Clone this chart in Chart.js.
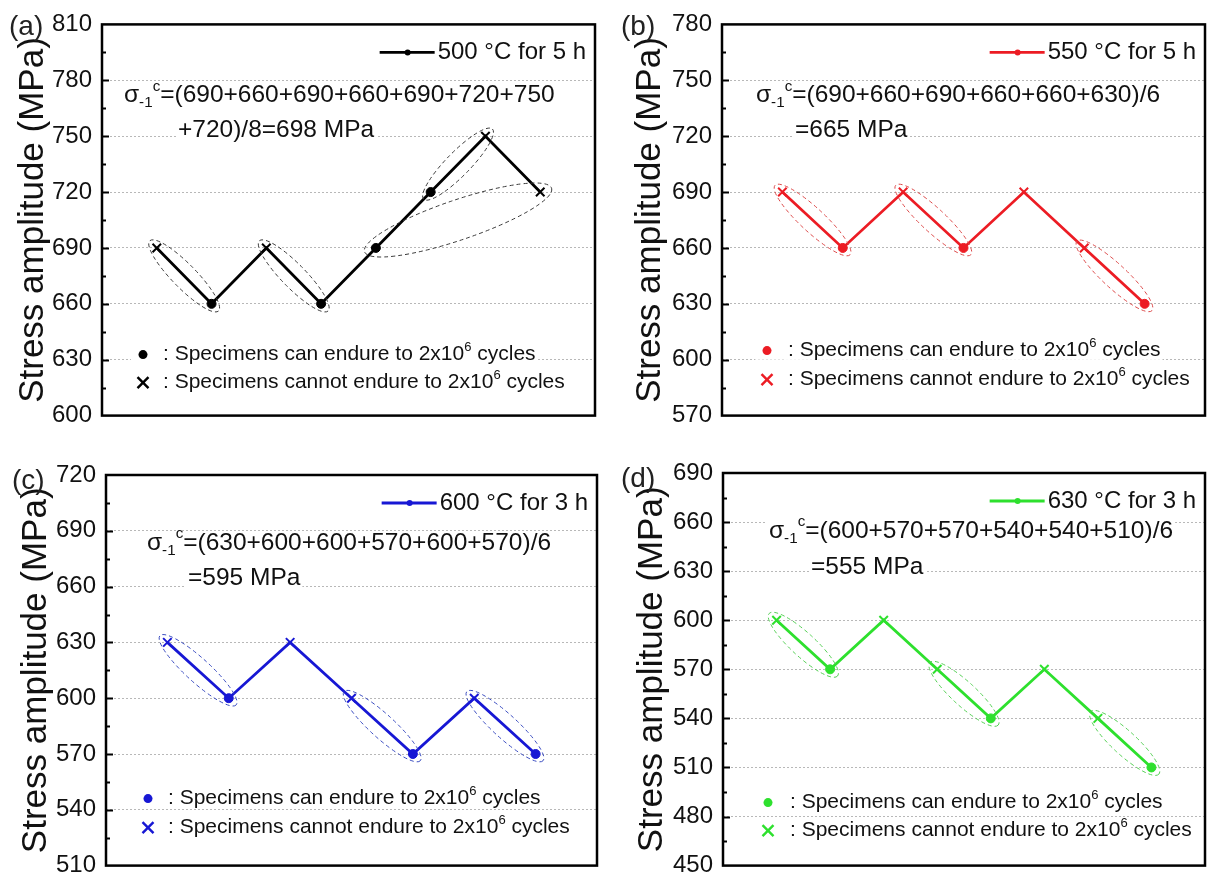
<!DOCTYPE html>
<html><head><meta charset="utf-8">
<script src="https://cdn.jsdelivr.net/npm/chart.js@4.4.1/dist/chart.umd.min.js"></script>
<style>
html,body{margin:0;padding:0;background:#fff;overflow:hidden;width:1213px;height:879px;position:relative;}
canvas{position:absolute;display:block;}
</style></head><body>
<canvas id="c0" width="606" height="440" style="left:0;top:0"></canvas>
<canvas id="c1" width="607" height="440" style="left:606px;top:0"></canvas>
<canvas id="c2" width="606" height="450" style="left:0;top:440px"></canvas>
<canvas id="c3" width="607" height="450" style="left:606px;top:440px"></canvas>
<script>
// ---------------- DATA ----------------
const panelTags = ['(a)', '(b)', '(c)', '(d)'];
const seriesNames = ['500 °C for 5 h', '550 °C for 5 h', '600 °C for 3 h', '630 °C for 3 h'];

const stressA = [690, 660, 690, 660, 690, 720, 750, 720];
const enduredA = [0, 1, 0, 1, 1, 1, 0, 0];
const pairsA = [[0, 1], [2, 3], [5, 6], [4, 7]];

const stressB = [690, 660, 690, 660, 690, 660, 630];
const enduredB = [0, 1, 0, 1, 0, 0, 1];
const pairsB = [[0, 1], [2, 3], [5, 6]];

const stressC = [630, 600, 630, 600, 570, 600, 570];
const enduredC = [0, 1, 0, 0, 1, 0, 1];
const pairsC = [[0, 1], [3, 4], [5, 6]];

const stressD = [600, 570, 600, 570, 540, 570, 540, 510];
const enduredD = [0, 1, 0, 0, 1, 0, 0, 1];
const pairsD = [[0, 1], [3, 4], [6, 7]];

const yRangeA = [600, 810];
const yRangeB = [570, 780];
const yRangeC = [510, 720];
const yRangeD = [450, 690];
const yTickStep = 30;

const formulaA = ['=(690+660+690+660+690+720+750', '+720)/8=698 MPa'];
const formulaB = ['=(690+660+690+660+660+630)/6', '=665 MPa'];
const formulaC = ['=(630+600+600+570+600+570)/6', '=595 MPa'];
const formulaD = ['=(600+570+570+540+540+510)/6', '=555 MPa'];

const yTitle = 'Stress amplitude (MPa)';
const keyCan = [': Specimens can endure to 2x10', '6', ' cycles'];
const keyCannot = [': Specimens cannot endure to 2x10', '6', ' cycles'];

// ---------------- STYLE / LAYOUT ----------------
const FONT = '"Liberation Sans", Arial, sans-serif';
const colors = ['#000000', '#ec1c24', '#1717d4', '#2ee02e'];
const ellipseColors = ['#3a3a3a', '#dc4a4a', '#3a4cc0', '#55cf55'];
const layouts = [
  {pad: {left: 0, top: 22, right: 11, bottom: 22}, yW: 102, titlePad: 15.5, tag: [9, 27],
   f: [[22, 71], [76, 106]], key: {bx: 41, tx: 61, rows: [-61, -33]}, minor: [12, 12, 12, 20]},
  {pad: {left: 0, top: 22, right: 5, bottom: 21}, yW: 116, titlePad: 26.5, tag: [15, 27],
   f: [[34, 71], [73, 106]], key: {bx: 45, tx: 66, rows: [-65, -36]}, minor: [12, 12, 12]},
  {pad: {left: 0, top: 35, right: 9, bottom: 20}, yW: 106, titlePad: 18.5, tag: [12, 41],
   f: [[41, 68], [82, 103]], key: {bx: 42, tx: 62, rows: [-67, -38]}, minor: [12, 12, 12]},
  {pad: {left: 0, top: 33, right: 3, bottom: 22}, yW: 117, titlePad: 28.5, tag: [15, 39],
   f: [[46, 58], [88, 94]], key: {bx: 45, tx: 67, rows: [-63, -35]}, minor: [12, 12, 12]}
];

const panels = [
  {stress: stressA, endured: enduredA, pairs: pairsA, yr: yRangeA, formula: formulaA},
  {stress: stressB, endured: enduredB, pairs: pairsB, yr: yRangeB, formula: formulaB},
  {stress: stressC, endured: enduredC, pairs: pairsC, yr: yRangeC, formula: formulaC},
  {stress: stressD, endured: enduredD, pairs: pairsD, yr: yRangeD, formula: formulaD}
];

// ---------------- HELPERS ----------------
function drawRich(ctx, x, y, segs, size, color, bg) {
  const parts = [];
  let w = 0;
  for (const s of segs) {
    const fs = s.k === 'n' ? size : size * 0.62;
    ctx.font = fs + 'px ' + FONT;
    const sw = ctx.measureText(s.t).width;
    parts.push({t: s.t, k: s.k, fs: fs, sw: sw});
    w += sw;
  }
  if (bg) {
    ctx.fillStyle = '#ffffff';
    ctx.fillRect(x - 2, y - size * 0.4, w + 4, size * 0.84);
  }
  ctx.fillStyle = color;
  ctx.textBaseline = 'middle';
  ctx.textAlign = 'left';
  let cx = x;
  for (const p of parts) {
    const dy = p.k === 'sub' ? size * 0.3 : (p.k === 'sup' ? -size * 0.36 : 0);
    ctx.font = p.fs + 'px ' + FONT;
    ctx.fillText(p.t, cx, y + dy);
    cx += p.sw;
  }
  return w;
}

function drawCross(ctx, x, y, r, color, lw) {
  ctx.save();
  ctx.strokeStyle = color; ctx.lineWidth = lw;
  ctx.beginPath();
  ctx.moveTo(x - r, y - r); ctx.lineTo(x + r, y + r);
  ctx.moveTo(x - r, y + r); ctx.lineTo(x + r, y - r);
  ctx.stroke();
  ctx.restore();
}

const decoPlugin = {
  id: 'deco',
  beforeDatasetsDraw(chart, args, o) {
    const ctx = chart.ctx, ca = chart.chartArea, L = o.layout;
    ctx.save();
    // formula
    const f1 = [{t: 'σ', k: 'n'}, {t: '-1', k: 'sub'}, {t: 'c', k: 'sup'}, {t: o.formula[0], k: 'n'}];
    drawRich(ctx, ca.left + L.f[0][0], ca.top + L.f[0][1], f1, 24.5, '#111', true);
    drawRich(ctx, ca.left + L.f[1][0], ca.top + L.f[1][1], [{t: o.formula[1], k: 'n'}], 24.5, '#111', true);
    // key rows
    const y1 = ca.bottom + L.key.rows[0], y2 = ca.bottom + L.key.rows[1];
    const segs1 = [{t: keyCan[0], k: 'n'}, {t: keyCan[1], k: 'sup'}, {t: keyCan[2], k: 'n'}];
    const segs2 = [{t: keyCannot[0], k: 'n'}, {t: keyCannot[1], k: 'sup'}, {t: keyCannot[2], k: 'n'}];
    ctx.fillStyle = '#fff';
    ctx.fillRect(ca.left + L.key.bx - 12, y1 - 9, L.key.tx - L.key.bx + 12, 18);
    ctx.fillRect(ca.left + L.key.bx - 12, y2 - 9, L.key.tx - L.key.bx + 12, 18);
    drawRich(ctx, ca.left + L.key.tx, y1, segs1, 21, '#111', true);
    drawRich(ctx, ca.left + L.key.tx, y2, segs2, 21, '#111', true);
    ctx.fillStyle = o.color;
    ctx.beginPath(); ctx.arc(ca.left + L.key.bx, y1, 4.5, 0, Math.PI * 2); ctx.fill();
    drawCross(ctx, ca.left + L.key.bx, y2, 5.5, o.color, 2.4);
    // legend
    const name = chart.data.datasets[0].label;
    ctx.font = '24px ' + FONT;
    const tw = ctx.measureText(name).width;
    const ty = ca.top + 28;
    const tx = ca.right - 9 - tw;
    ctx.fillStyle = '#111'; ctx.textBaseline = 'middle'; ctx.textAlign = 'left';
    ctx.fillText(name, tx, ty);
    ctx.strokeStyle = o.color; ctx.lineWidth = 2.8;
    ctx.beginPath(); ctx.moveTo(tx - 58, ty); ctx.lineTo(tx - 3, ty); ctx.stroke();
    ctx.fillStyle = o.color;
    ctx.beginPath(); ctx.arc(tx - 30, ty, 3, 0, Math.PI * 2); ctx.fill();
    ctx.restore();
  },
  afterDatasetsDraw(chart, args, o) {
    const ctx = chart.ctx, ca = chart.chartArea, L = o.layout;
    const pts = chart.getDatasetMeta(0).data;
    ctx.save();
    // ellipses
    ctx.strokeStyle = o.ellipseColor; ctx.lineWidth = 1; ctx.setLineDash([4, 3]);
    o.pairs.forEach((pr, k) => {
      const p1 = pts[pr[0]], p2 = pts[pr[1]];
      const cx = (p1.x + p2.x) / 2, cy = (p1.y + p2.y) / 2;
      const minor = L.minor[k];
      const a = Math.hypot(p2.x - p1.x, p2.y - p1.y) / 2 + (minor > 14 ? 12 : 10);
      const ang = Math.atan2(p2.y - p1.y, p2.x - p1.x);
      ctx.beginPath(); ctx.ellipse(cx, cy, a, minor, ang, 0, Math.PI * 2); ctx.stroke();
    });
    ctx.setLineDash([]);
    // inward ticks
    const ys = chart.scales.y;
    ctx.strokeStyle = '#000'; ctx.lineWidth = 2;
    for (let v = ys.min + 15; v < ys.max; v += 15) {
      const py = Math.round(ys.getPixelForValue(v)) + 0.5;
      const len = ((v - ys.min) % 30 === 0) ? 7 : 4;
      ctx.beginPath(); ctx.moveTo(ca.left, py); ctx.lineTo(ca.left + len, py); ctx.stroke();
    }
    // frame
    ctx.lineWidth = 2.5;
    ctx.strokeRect(ca.left, ca.top, ca.right - ca.left, ca.bottom - ca.top);
    // panel tag
    ctx.fillStyle = '#222'; ctx.font = '28px ' + FONT;
    ctx.textBaseline = 'middle'; ctx.textAlign = 'left';
    ctx.fillText(o.tag, L.tag[0], L.tag[1]);
    ctx.restore();
  }
};

panels.forEach((p, i) => {
  const L = layouts[i];
  const n = p.stress.length;
  const pts = p.stress.map((v, k) => ({x: k + 1, y: v}));
  new Chart(document.getElementById('c' + i), {
    type: 'line',
    data: {
      datasets: [{
        label: seriesNames[i],
        data: pts,
        borderColor: colors[i],
        backgroundColor: colors[i],
        borderWidth: 2.8,
        pointStyle: p.endured.map(e => e ? 'circle' : 'crossRot'),
        pointRadius: p.endured.map(e => e ? 4.5 : 6),
        pointBorderWidth: p.endured.map(e => e ? 1 : 2),
        pointBackgroundColor: colors[i],
        pointBorderColor: colors[i],
        tension: 0,
        clip: false
      }]
    },
    options: {
      responsive: false,
      animation: false,
      events: [],
      layout: {padding: L.pad},
      plugins: {
        legend: {display: false},
        tooltip: {enabled: false},
        deco: {layout: L, color: colors[i], ellipseColor: ellipseColors[i], pairs: p.pairs,
               formula: p.formula, tag: panelTags[i]}
      },
      scales: {
        x: {type: 'linear', min: 0, max: n + 1, display: false},
        y: {
          type: 'linear', min: p.yr[0], max: p.yr[1],
          afterFit: (s) => { s.width = L.yW; },
          ticks: {stepSize: yTickStep, color: '#111', padding: 10, font: {family: FONT, size: 24}},
          grid: {
            drawTicks: false, lineWidth: 1,
            color: (c) => (c.tick && (c.tick.value === p.yr[0] || c.tick.value === p.yr[1])) ? 'rgba(0,0,0,0)' : '#b8b8b8'
          },
          border: {display: false, dash: [2, 2]},
          title: {display: true, text: yTitle, color: '#111', font: {family: FONT, size: 35, lineHeight: 1},
                  padding: {top: L.titlePad, bottom: 0}}
        }
      }
    },
    plugins: [decoPlugin]
  });
});
</script>
</body></html>
